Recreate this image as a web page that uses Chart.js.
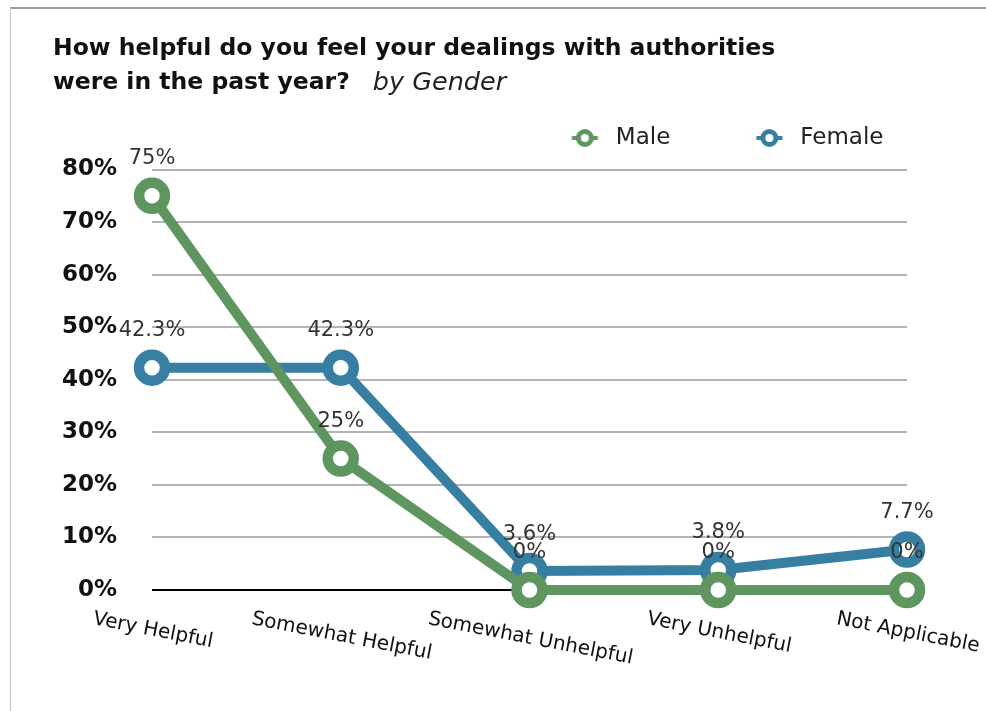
<!DOCTYPE html>
<html>
<head>
<meta charset="utf-8">
<script src="https://cdn.jsdelivr.net/npm/chart.js@4.4.0/dist/chart.umd.min.js"></script>
<style>
  html, body { margin: 0; padding: 0; background: #fff; }
  #wrap { position: relative; width: 986px; height: 711px; overflow: hidden; }
  #frame { position: absolute; left: 10px; top: 7px; right: -2px; bottom: -2px;
           border-top: 2px solid #9a9a9a; border-left: 1px solid #c4c4c4; }
  #myChart { position: absolute; left: 0; top: 0; }
</style>
</head>
<body>
<div id="wrap">
  <div id="frame"></div>
  <canvas id="myChart" width="986" height="711"></canvas>
</div>
<script>
// data
const categories = ['Very Helpful', 'Somewhat Helpful', 'Somewhat Unhelpful', 'Very Unhelpful', 'Not Applicable'];
const maleValues = [75, 25, 0, 0, 0];
const femaleValues = [42.3, 42.3, 3.6, 3.8, 7.7];
const seriesNames = ['Male', 'Female'];
const seriesColors = ['#5f965f', '#377fa2'];
const titleLines = ['How helpful do you feel your dealings with authorities', 'were in the past year?'];
const subTitle = 'by Gender';

const FONT = "'DejaVu Sans', 'Liberation Sans', sans-serif";

// legend marker: small ring with a line stub through it
function makeMarker(color) {
  const c = document.createElement('canvas');
  c.width = 95; c.height = 24;
  const g = c.getContext('2d');
  const cx = 75.5, cy = 12;
  g.fillStyle = color;
  g.fillRect(cx - 13, cy - 2, 26, 4);
  g.beginPath();
  g.arc(cx, cy, 6.5, 0, Math.PI * 2);
  g.fillStyle = '#fff';
  g.fill();
  g.lineWidth = 5;
  g.strokeStyle = color;
  g.stroke();
  return c;
}
const markers = seriesColors.map(makeMarker);

const subTitlePlugin = {
  id: 'subTitle',
  afterDraw(chart) {
    const t = chart.titleBlock;
    const ctx = chart.ctx;
    ctx.save();
    ctx.font = "bold 23.5px " + FONT;
    const w = ctx.measureText(titleLines[1]).width;
    ctx.font = "italic 25.5px " + FONT;
    ctx.fillStyle = '#222';
    ctx.textBaseline = 'middle';
    ctx.textAlign = 'left';
    ctx.fillText(subTitle, t.left + w + 23, t.top + t.options.padding.top + 34 * 1.5);
    ctx.restore();
  }
};

const pointLabels = {
  id: 'pointLabels',
  afterDatasetsDraw(chart) {
    const ctx = chart.ctx;
    ctx.save();
    ctx.font = "21px " + FONT;
    ctx.fillStyle = '#333';
    ctx.textAlign = 'center';
    ctx.textBaseline = 'middle';
    for (let i = chart.data.datasets.length - 1; i >= 0; i--) {
      const meta = chart.getDatasetMeta(i);
      meta.data.forEach((p, j) => {
        ctx.fillText(chart.data.datasets[i].data[j] + '%', p.x, p.y - 37);
      });
    }
    ctx.restore();
  }
};

// slanted category labels (clockwise), centred under each point
const slantedLabels = {
  id: 'slantedLabels',
  afterDraw(chart) {
    const ctx = chart.ctx;
    const xs = chart.scales.x;
    const ang = 11 * Math.PI / 180;
    ctx.save();
    ctx.font = "20px " + FONT;
    ctx.fillStyle = '#111';
    ctx.textAlign = 'left';
    ctx.textBaseline = 'alphabetic';
    categories.forEach((lab, i) => {
      const w = ctx.measureText(lab).width;
      const x = xs.getPixelForValue(i) - w * Math.cos(ang) / 2;
      ctx.save();
      ctx.translate(x, 624);
      ctx.rotate(ang);
      ctx.fillText(lab, 0, 0);
      ctx.restore();
    });
    ctx.restore();
  }
};

const ctx = document.getElementById('myChart').getContext('2d');
const myChart = new Chart(ctx, {
  type: 'line',
  data: {
    labels: categories,
    datasets: [{
      label: seriesNames[0],
      data: maleValues,
      borderColor: seriesColors[0],
      pointBorderColor: seriesColors[0],
      pointBackgroundColor: '#fff',
      borderWidth: 10,
      pointRadius: 13,
      pointBorderWidth: 10.5,
      tension: 0,
      clip: false
    }, {
      label: seriesNames[1],
      data: femaleValues,
      borderColor: seriesColors[1],
      pointBorderColor: seriesColors[1],
      pointBackgroundColor: '#fff',
      borderWidth: 10,
      pointRadius: 13,
      pointBorderWidth: 10.5,
      tension: 0,
      clip: false
    }]
  },
  options: {
    responsive: false,
    animation: false,
    events: [],
    layout: { padding: { left: 53, right: 79, top: 22, bottom: 0 } },
    plugins: {
      title: {
        display: true,
        text: titleLines,
        align: 'start',
        color: '#111',
        font: { family: FONT, size: 23.5, weight: 'bold', lineHeight: '34px' },
        padding: { top: 10, bottom: 3 }
      },
      // empty spacer between the legend and the plot
      subtitle: {
        display: true,
        text: '',
        weight: 500,
        font: { size: 10, lineHeight: '10px' },
        padding: 0
      },
      legend: {
        display: true,
        align: 'end',
        labels: {
          usePointStyle: true,
          pointStyleWidth: 95,
          boxHeight: 23,
          padding: 23.5,
          color: '#222',
          font: { family: FONT, size: 23 },
          generateLabels(chart) {
            const items = Chart.defaults.plugins.legend.labels.generateLabels(chart);
            items.forEach(it => { it.pointStyle = markers[it.datasetIndex]; });
            return items;
          }
        }
      },
      tooltip: { enabled: false }
    },
    scales: {
      x: {
        offset: false,
        grid: { display: false },
        border: { display: false },
        ticks: { display: false },
        afterFit(scale) { scale.height = 121; }
      },
      y: {
        min: 0,
        max: 80,
        border: { display: false },
        grid: {
          drawTicks: false,
          lineWidth: 2,
          color: c => c.tick && c.tick.value === 0 ? '#000' : '#b4b4b4'
        },
        ticks: {
          stepSize: 10,
          padding: 35,
          color: '#111',
          font: { family: FONT, size: 23, weight: 'bold' },
          callback: v => v + '%'
        },
        afterFit(scale) { scale.width = 99; }
      }
    }
  },
  plugins: [subTitlePlugin, pointLabels, slantedLabels]
});
</script>
</body>
</html>
